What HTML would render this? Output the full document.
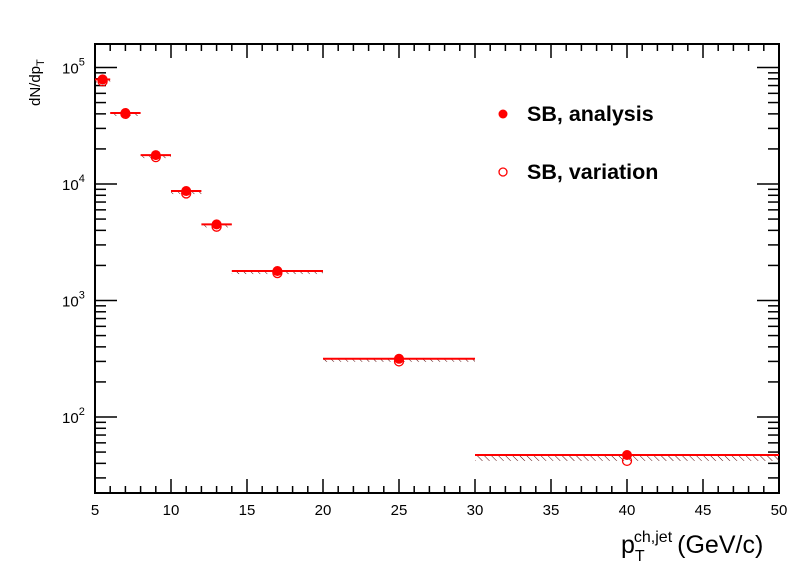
<!DOCTYPE html>
<html><head><meta charset="utf-8"><style>
body{margin:0;background:#fff;}
svg text{font-family:"Liberation Sans",sans-serif;}
</style></head><body>
<svg id="chart" width="796" height="572" xmlns="http://www.w3.org/2000/svg">
<defs><pattern id="hatch" width="5" height="5" patternUnits="userSpaceOnUse" patternTransform="rotate(-45)"><line x1="0" y1="0" x2="0" y2="5" stroke="#500" stroke-width="1"/></pattern></defs>
<rect x="95" y="44" width="684" height="449" fill="none" stroke="#000" stroke-width="2"/>
<g id="ticks"></g><g id="marks"></g>
<text x="40" y="106" font-size="15" transform="rotate(-90 40 106)">dN/dp<tspan font-size="11" dy="4">T</tspan></text>
<text x="621" y="553" font-size="25">p<tspan font-size="16" dy="8">T</tspan><tspan font-size="16" dy="-19" dx="-9">ch,jet</tspan><tspan dy="11" dx="5">(GeV/c)</tspan></text>
<g>
<circle cx="503" cy="114" r="4.5" fill="red"/>
<text x="527" y="121" font-size="21.5" font-weight="bold">SB, analysis</text>
<circle cx="503" cy="172" r="4" fill="none" stroke="red" stroke-width="1.3"/>
<text x="527" y="179" font-size="21.5" font-weight="bold">SB, variation</text>
</g>
</svg>
<script>
const binLow=[5,6,8,10,12,14,20,30];
const binHigh=[6,8,10,12,14,20,30,50];
const centers=[5.5,7,9,11,13,17,25,40];
const analysis=[79000,40700,17700,8700,4500,1790,316,47.2];
const variation=[76000,40000,17000,8300,4300,1720,300,42];
const xTicks=[5,10,15,20,25,30,35,40,45,50];
const yDecades=[2,3,4,5];
const NS='http://www.w3.org/2000/svg';
const X=v=>95+(v-5)*684/45;
const Y=v=>184-(Math.log10(v)-4)*116.5;
function mk(tag,attrs,parent){const e=document.createElementNS(NS,tag);for(const k in attrs)e.setAttribute(k,attrs[k]);parent.appendChild(e);return e;}
const tg=document.getElementById('ticks'),mg=document.getElementById('marks');
for(let v=5;v<=50;v++){const big=v%5===0;const x=X(v);
 const t=mk('line',{x1:x,x2:x,y1:493,y2:493-(big?14:7),stroke:'#000','stroke-width':1.5},tg);
 
 mk('line',{x1:x,x2:x,y1:44,y2:44+(big?14:7),stroke:'#000','stroke-width':1.5},tg);}
xTicks.forEach(v=>{const t=mk('text',{x:X(v),y:515,'font-size':15,'text-anchor':'middle'},tg);t.textContent=v;
 });
for(let d=1;d<=5;d++)for(let m=1;m<10;m++){const v=m*Math.pow(10,d);const y=Y(v);if(y<44||y>493)continue;
 const L=m===1?22:11;
 mk('line',{x1:95,x2:95+L,y1:y,y2:y,stroke:'#000','stroke-width':1.5},tg);
 mk('line',{x1:779,x2:779-L,y1:y,y2:y,stroke:'#000','stroke-width':1.5},tg);}
yDecades.forEach(d=>{const y=Y(Math.pow(10,d));const t=mk('text',{x:62,y:y+6,'font-size':15},tg);
 
 t.appendChild(document.createTextNode('10'));const s=mk('tspan',{'font-size':11,dy:-8},t);s.textContent=d;});
centers.forEach((c,i)=>{
 const x1=X(binLow[i]),x2=X(binHigh[i]),ya=Y(analysis[i]),yv=Y(variation[i]);
 const h=mk('rect',{x:x1,y:ya,width:x2-x1,height:Math.max(yv-ya,3),fill:'url(#hatch)'},mg);
 
 const l=mk('line',{x1:x1,x2:x2,y1:ya,y2:ya,stroke:'red','stroke-width':2},mg);
 
 const o=mk('circle',{cx:X(c),cy:yv,r:4.5,fill:'none',stroke:'red','stroke-width':1.3},mg);
 
 const p=mk('circle',{cx:X(c),cy:ya,r:5,fill:'red'},mg);
 
});
</script>
</body></html>
